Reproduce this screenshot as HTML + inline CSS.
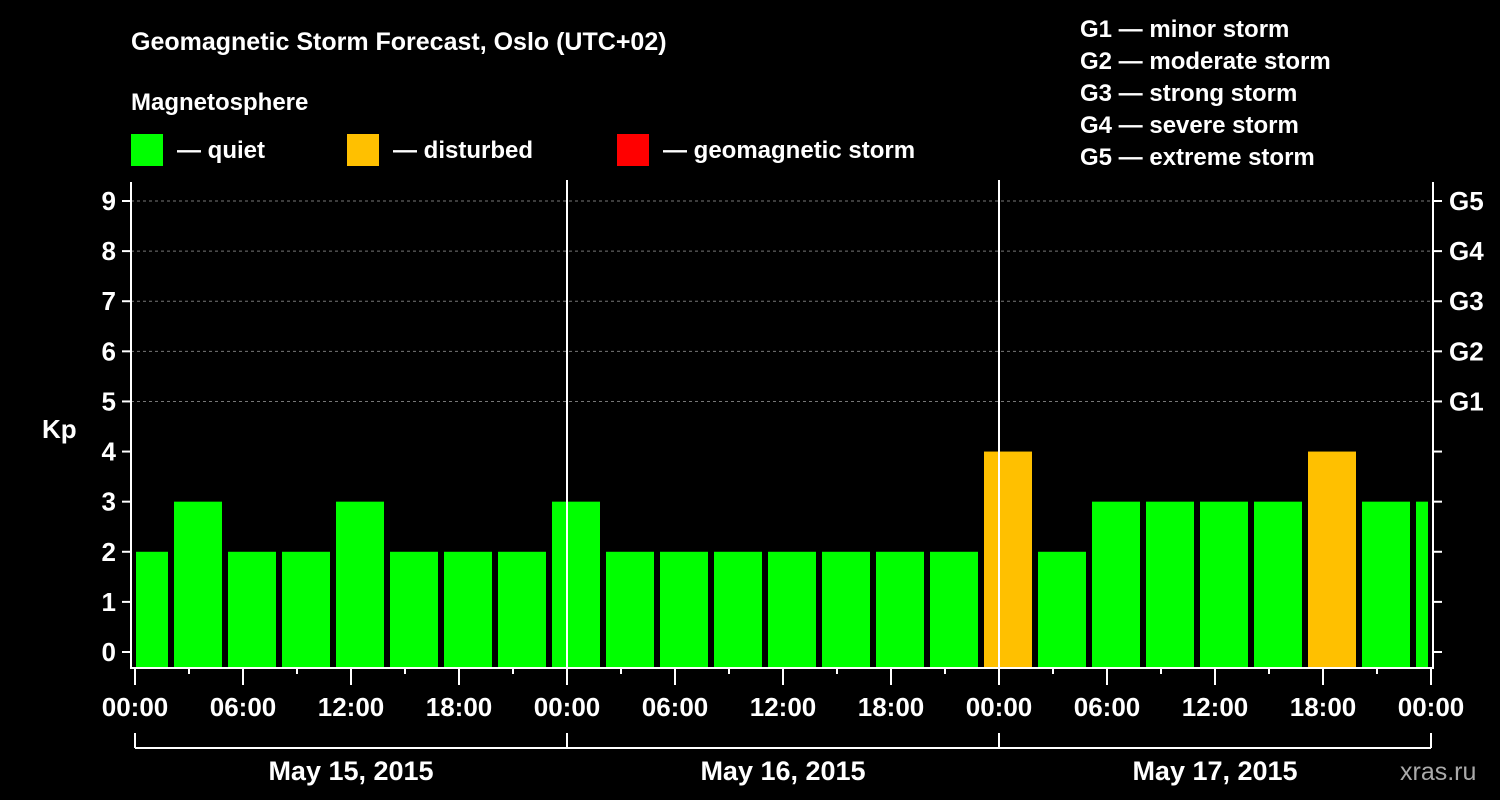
<!DOCTYPE html>
<html><head><meta charset="utf-8"><style>
html,body{margin:0;padding:0;background:#000;}
svg{display:block;font-family:"Liberation Sans",Arial,sans-serif;font-weight:bold;}
</style></head><body>
<svg id="c" width="1500" height="800" viewBox="0 0 1500 800">
<rect width="1500" height="800" fill="#000"/>
<text x="131" y="50" fill="#fff" font-size="25">Geomagnetic Storm Forecast, Oslo (UTC+02)</text>
<text x="131" y="110" fill="#fff" font-size="24">Magnetosphere</text>
<g><rect x="131" y="134" width="32" height="32" fill="#00ff00"/><text x="177" y="158" fill="#fff" font-size="24">— quiet</text></g>
<g><rect x="347" y="134" width="32" height="32" fill="#ffc000"/><text x="393" y="158" fill="#fff" font-size="24">— disturbed</text></g>
<g><rect x="617" y="134" width="32" height="32" fill="#ff0000"/><text x="663" y="158" fill="#fff" font-size="24">— geomagnetic storm</text></g>
<g fill="#fff" font-size="24">
<text x="1080" y="37">G1 — minor storm</text>
<text x="1080" y="69">G2 — moderate storm</text>
<text x="1080" y="101">G3 — strong storm</text>
<text x="1080" y="133">G4 — severe storm</text>
<text x="1080" y="165">G5 — extreme storm</text>
</g>
<text x="42" y="438" fill="#fff" font-size="26">Kp</text>
<text x="1400" y="780" fill="#aaa" font-size="25" font-weight="normal">xras.ru</text>
<g id="plot"></g>
</svg>
<script>
const kpValues=[2,3,2,2,3,2,2,2,3,2,2,2,2,2,2,2,4,2,3,3,3,3,4,3,3];
const yTicks=[0,1,2,3,4,5,6,7,8,9];
const gLabels=["G1","G2","G3","G4","G5"];
const xLabels=["00:00","06:00","12:00","18:00","00:00","06:00","12:00","18:00","00:00","06:00","12:00","18:00","00:00"];
const dateLabels=["May 15, 2015","May 16, 2015","May 17, 2015"];
const totalHours=72, utcOffset=2;
const NS="http://www.w3.org/2000/svg";
const g=document.getElementById('plot');
const X0=135,X1=1431,L=131,R=1433,T=182,B=668;
const xs=h=>X0+(X1-X0)*h/totalHours;
const ys=v=>652-(652-201)*v/9;
function mk(t,a,p){const e=document.createElementNS(NS,t);for(const k in a)e.setAttribute(k,a[k]);(p||g).appendChild(e);return e;}
// grid
yTicks.forEach(v=>{if(v>=5){const l=mk('line',{x1:L,x2:R,y1:ys(v),y2:ys(v),stroke:'#777','stroke-dasharray':'3,3'});

}});
// bars
kpValues.forEach((v,i)=>{
 let h0=Math.max(0,i*3-utcOffset+ (i==0?utcOffset:0)); if(i>0)h0=i*3-1;
 let h1=Math.min(totalHours,i*3+2);
 if(i==0)h0=0;
 const x0=xs(h0)+(i==0?1:3), x1=xs(h1)-3;
 const col=v>=5?'#ff0000':(v>=4?'#ffc000':'#00ff00');
 const r=mk('rect',{x:x0,y:ys(v),width:Math.max(0,x1-x0),height:667-ys(v),fill:col});
 
 
});
// day separators
[24,48].forEach(h=>{const l=mk('line',{x1:xs(h),x2:xs(h),y1:180,y2:B,stroke:'#fff','stroke-width':2});

});
// frame
const f=mk('path',{d:`M${L} ${T}V${B}H${R}V${T}`,fill:'none',stroke:'#fff','stroke-width':2});


// y ticks
yTicks.forEach(v=>{
 mk('line',{x1:122,x2:L,y1:ys(v),y2:ys(v),stroke:'#fff','stroke-width':2});
 mk('line',{x1:R,x2:1442,y1:ys(v),y2:ys(v),stroke:'#fff','stroke-width':2});
 const t=mk('text',{x:116,y:ys(v)+9,fill:'#fff','font-size':26,'text-anchor':'end'});t.textContent=v;
 
 
});
gLabels.forEach((s,i)=>{const t=mk('text',{x:1449,y:ys(5+i)+9,fill:'#fff','font-size':26});t.textContent=s;
 
 });
// x ticks
for(let h=0;h<=totalHours;h+=3){const long=h%6==0;mk('line',{x1:xs(h),x2:xs(h),y1:B,y2:long?685:674,stroke:'#fff','stroke-width':2});}
xLabels.forEach((s,i)=>{const t=mk('text',{x:xs(i*6),y:716,fill:'#fff','font-size':26,'text-anchor':'middle'});t.textContent=s;
 
 });
// date bracket
mk('line',{x1:X0,x2:X1,y1:748,y2:748,stroke:'#fff','stroke-width':2});
[0,24,48,72].forEach(h=>mk('line',{x1:xs(h),x2:xs(h),y1:733,y2:748,stroke:'#fff','stroke-width':2}));
dateLabels.forEach((s,i)=>{const t=mk('text',{x:xs(i*24+12),y:780,fill:'#fff','font-size':27,'text-anchor':'middle'});t.textContent=s;
 
 });
</script>
</body></html>
